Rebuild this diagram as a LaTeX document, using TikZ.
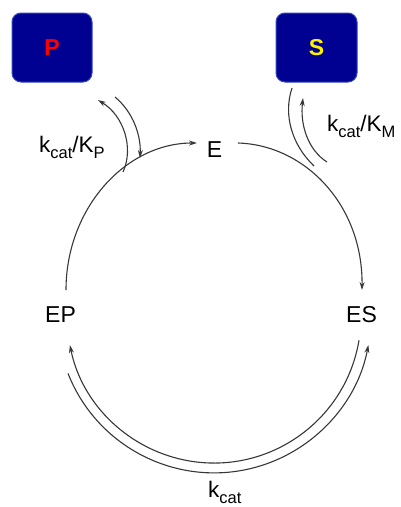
\documentclass[tikz,border=0pt]{standalone}
\usepackage{fontspec}
\setmainfont{Liberation Sans}
\usetikzlibrary{arrows.meta}
\definecolor{boxfill}{RGB}{0,0,145}
\definecolor{boxline}{RGB}{50,70,190}
\definecolor{linec}{RGB}{55,55,55}
\newcommand\lsub[1]{\raisebox{-6.5pt}{\fontsize{16.5}{16.5}\selectfont #1}}
\tikzset{
  box/.style={draw=boxline, fill=boxfill, rounded corners=9pt, line width=1pt,
    minimum width=80pt, minimum height=69pt, inner sep=0pt,
    font=\fontsize{23}{23}\selectfont\bfseries},
  species/.style={inner sep=0pt, anchor=base, font=\fontsize{23}{23}\selectfont},
  ratelbl/.style={inner sep=0pt, anchor=base west, font=\fontsize{22.5}{22.5}\selectfont},
  conn/.style={draw=linec, line width=1.1pt},
  arr/.style={conn, -{Stealth[length=8pt,width=5pt]}}
}
\begin{document}
\begin{tikzpicture}[x=1pt, y=-1pt]
\useasboundingbox (0,0) rectangle (401,507);
% substrate / product boxes
\node[box, text=red] (P) at (52,47.5) {P};
\node[box, text=yellow, minimum width=81pt] (S) at (316.5,47.5) {S};
% species
\node[species] (E) at (214.5,157) {E};
\node[species] (EP) at (60.5,322) {EP};
\node[species] (ES) at (361.5,322) {ES};
% rate labels
\node[ratelbl] (kp) at (39,152) {k\lsub{cat}/K\lsub{P}};
\node[ratelbl] (km) at (327,131) {k\lsub{cat}/K\lsub{M}};
\node[ratelbl] (kc) at (208,497) {k\lsub{cat}};
% connector end points
\coordinate (lA) at (66,290);
\coordinate (lB) at (197,143);
\coordinate (rA) at (238,143);
\coordinate (rB) at (362,290);
\coordinate (biS) at (359,340.3);
\coordinate (boS) at (68,373.4);
\coordinate (pA) at (123,172);
\coordinate (pB) at (98,100);
\coordinate (pC) at (115,97);
\coordinate (pD) at (140,158);
\coordinate (sA) at (292,88);
\coordinate (sB) at (314,166);
\coordinate (sC) at (327,162);
\coordinate (sD) at (303,98);
% main cycle
\draw[arr] (lA) .. controls (66,209) and (125,143) .. (lB);
\draw[arr] (rA) .. controls (305,145) and (363,205) .. (rB);
\draw[arr] (biS) arc[start angle=9.5, end angle=168.6, radius=147];
\draw[arr] (boS) arc[start angle=158.5, end angle=10.7, radius=157];
% product release / binding
\draw[arr] (pA) .. controls (134,148) and (124,116) .. (pB);
\draw[arr] (pC) .. controls (133,112) and (141,135) .. (pD);
% substrate binding / release
\draw[conn] (sA) .. controls (283,115) and (292,145) .. (sB);
\draw[arr] (sC) .. controls (308,150) and (300,125) .. (sD);
\end{tikzpicture}
\end{document}
